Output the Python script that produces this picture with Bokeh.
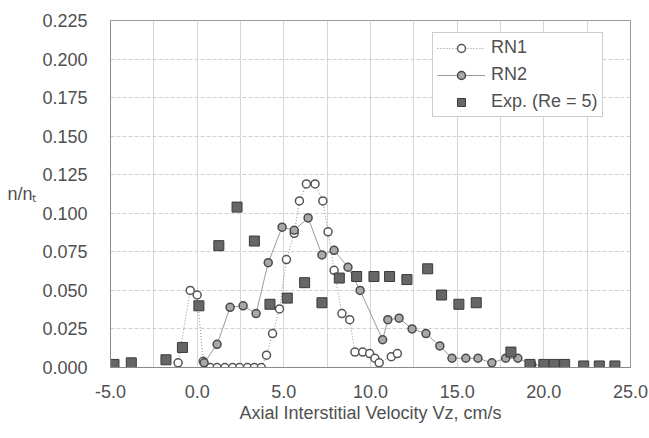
from bokeh.plotting import figure
from bokeh.models import Range1d, FixedTicker, NumeralTickFormatter, Legend, LegendItem
from bokeh.embed import file_html
from bokeh.resources import INLINE

# ---- data ----
rn1_x = [-1.1, -0.4, 0.0, 0.35, 0.75, 1.15, 1.6, 2.05, 2.45, 2.9, 3.3, 3.7,
         4.0, 4.35, 4.75, 5.15, 5.6, 5.9, 6.3, 6.8, 7.25, 7.55, 7.9, 8.35, 8.8,
         9.1, 9.55, 9.95, 10.25, 10.5, 11.2, 11.55]
rn1_y = [0.003, 0.050, 0.047, 0.004, 0.000, 0.000, 0.000, 0.000, 0.000, 0.000, 0.000, 0.000,
         0.008, 0.022, 0.038, 0.070, 0.087, 0.108, 0.119, 0.119, 0.108, 0.088, 0.063, 0.035, 0.031,
         0.010, 0.010, 0.009, 0.006, 0.003, 0.007, 0.009]

rn2_x = [0.4, 1.15, 1.9, 2.65, 3.4, 4.1, 4.9, 5.6, 6.4, 7.2, 7.9, 8.7, 9.4, 10.7, 11.0,
         11.65, 12.4, 13.2, 14.0, 14.7, 15.5, 16.2, 17.0, 17.8, 18.5, 19.3, 20.0, 20.8]
rn2_y = [0.003, 0.015, 0.039, 0.040, 0.035, 0.068, 0.091, 0.089, 0.097, 0.073, 0.076, 0.065,
         0.050, 0.018, 0.031, 0.032, 0.025, 0.022, 0.014, 0.006, 0.006, 0.006, 0.003, 0.006,
         0.006, 0.002, 0.001, 0.001]

exp_x = [-4.8, -3.8, -1.8, -0.85, 0.1, 1.25, 2.3, 3.3, 4.2, 5.2, 6.2, 7.2, 8.2, 9.2, 10.2,
         11.1, 12.1, 13.3, 14.1, 15.1, 16.1, 18.1, 19.2, 20.0, 20.6, 21.2, 22.3, 23.2, 24.1]
exp_y = [0.002, 0.003, 0.005, 0.013, 0.040, 0.079, 0.104, 0.082, 0.041, 0.045, 0.055, 0.042,
         0.058, 0.059, 0.059, 0.059, 0.057, 0.064, 0.047, 0.041, 0.042, 0.010, 0.002, 0.002,
         0.002, 0.002, 0.001, 0.001, 0.001]

x_ticks = [-5, 0, 5, 10, 15, 20, 25]
x_grid = [-5, -2.5, 0, 2.5, 5, 7.5, 10, 12.5, 15, 17.5, 20, 22.5, 25]
y_ticks = [0, 0.025, 0.05, 0.075, 0.1, 0.125, 0.15, 0.175, 0.2, 0.225]

series_names = ["RN1", "RN2", "Exp. (Re = 5)"]
x_label = "Axial Interstitial Velocity Vz, cm/s"
y_label = "n/n\u209c"

FONT = "Liberation Sans"
TXT = "#505050"

p = figure(width=649, height=438, output_backend="svg", toolbar_location=None,
           x_range=Range1d(-5, 25), y_range=Range1d(0, 0.225),
           min_border_left=110, min_border_right=19, min_border_top=20, min_border_bottom=71,
           background_fill_color="white", border_fill_color="white")

p.outline_line_color = "#9a9a9a"

p.xaxis.ticker = FixedTicker(ticks=x_ticks)
p.yaxis.ticker = FixedTicker(ticks=y_ticks)
p.xgrid.ticker = FixedTicker(ticks=x_grid)
p.xaxis.formatter = NumeralTickFormatter(format="0.0")
p.yaxis.formatter = NumeralTickFormatter(format="0.000")
for ax in (p.xaxis[0], p.yaxis[0]):
    ax.major_tick_line_color = None
    ax.minor_tick_line_color = None
    ax.axis_line_color = "#8a8a8a"
    ax.major_label_text_font = FONT
    ax.major_label_text_font_size = "18px"
    ax.major_label_text_color = TXT
    ax.axis_label_text_font = FONT
    ax.axis_label_text_font_size = "18px"
    ax.axis_label_text_color = TXT
    ax.axis_label_text_font_style = "normal"
p.yaxis.major_label_standoff = 17
p.xaxis.major_label_standoff = 11
p.xaxis.axis_label = x_label
p.xaxis.axis_label_standoff = 2
p.yaxis.axis_label = y_label
p.yaxis.axis_label_orientation = "horizontal"
p.yaxis.axis_label_standoff = 3

p.xgrid.grid_line_color = "#d6d6d6"
p.ygrid.grid_line_color = "#d0d0d0"
p.ygrid.grid_line_dash = "4 2"

l1 = p.line(rn1_x, rn1_y, line_color="#8c8c8c", line_width=1, line_dash="1 2")
s1 = p.scatter(rn1_x, rn1_y, marker="circle", size=8, fill_color="white",
               line_color="#555555", line_width=1.5)
l2 = p.line(rn2_x, rn2_y, line_color="#9a9a9a", line_width=1)
s2 = p.scatter(rn2_x, rn2_y, marker="circle", size=8, fill_color="#a8a8a8",
               line_color="#4a4a4a", line_width=1.5)
s3 = p.scatter(exp_x, exp_y, marker="square", size=10, fill_color="#666666",
               line_color="#3a3a3a", line_width=1)

legend = Legend(items=[LegendItem(label=series_names[0], renderers=[l1, s1]),
                       LegendItem(label=series_names[1], renderers=[l2, s2]),
                       LegendItem(label=series_names[2], renderers=[s3])],
                location=(322, 250), label_text_font=FONT, label_text_font_size="18px",
                label_text_color=TXT, glyph_width=48, glyph_height=20, label_height=20,
                label_standoff=6, spacing=6, padding=4, margin=0,
                border_line_color="#9a9a9a", background_fill_color="white",
                background_fill_alpha=1)
p.add_layout(legend, "center")

open("out.html", "w").write(file_html(p, INLINE))
